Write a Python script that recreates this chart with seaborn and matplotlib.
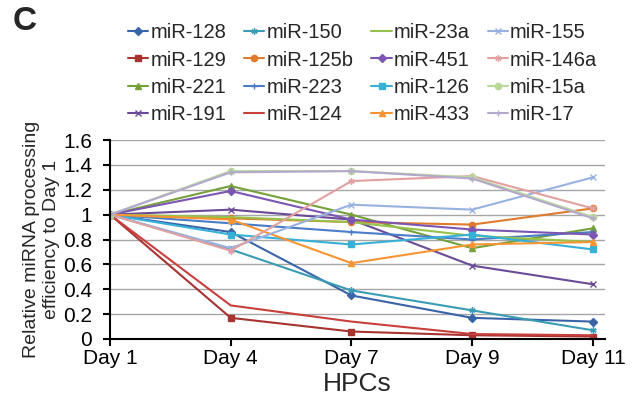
import matplotlib
matplotlib.use("Agg")
import matplotlib.pyplot as plt
import seaborn as sns
import numpy as np
import pandas as pd

days = ["Day 1", "Day 4", "Day 7", "Day 9", "Day 11"]

# series in Excel plotting order (legend is filled column by column)
mirnas = ["miR-128", "miR-129", "miR-221", "miR-191",
          "miR-150", "miR-125b", "miR-223", "miR-124",
          "miR-23a", "miR-451", "miR-126", "miR-433",
          "miR-155", "miR-146a", "miR-15a", "miR-17"]

mir128 = [1.0, 0.86, 0.35, 0.17, 0.14]
mir129 = [1.0, 0.17, 0.06, 0.03, 0.02]
mir221 = [1.0, 1.23, 1.00, 0.73, 0.89]
mir191 = [1.0, 1.04, 0.96, 0.59, 0.44]
mir150 = [1.0, 0.72, 0.39, 0.23, 0.07]
mir125b = [1.0, 0.97, 0.94, 0.92, 1.05]
mir223 = [1.0, 0.93, 0.86, 0.80, 0.86]
mir124 = [1.0, 0.27, 0.14, 0.04, 0.03]
mir23a = [1.0, 0.98, 0.94, 0.83, 0.78]
mir451 = [1.0, 1.19, 0.96, 0.88, 0.84]
mir126 = [1.0, 0.84, 0.76, 0.84, 0.72]
mir433 = [1.0, 0.96, 0.61, 0.76, 0.78]
mir155 = [1.0, 0.73, 1.08, 1.04, 1.30]
mir146a = [1.0, 0.71, 1.27, 1.31, 1.05]
mir15a = [1.0, 1.35, 1.35, 1.30, 0.98]
mir17 = [1.0, 1.34, 1.35, 1.29, 0.97]

values = [mir128, mir129, mir221, mir191, mir150, mir125b, mir223, mir124,
          mir23a, mir451, mir126, mir433, mir155, mir146a, mir15a, mir17]

colors = ["#3A64A8", "#A83432", "#76A03A", "#6B4B98",
          "#3A9CB4", "#E07A2C", "#4A7CC8", "#C8403C",
          "#95C24A", "#7B56B2", "#36B0D6", "#F79433",
          "#98B2E0", "#E2A0A0", "#B9D89C", "#B4A8CE"]
markers = ["D", "s", "^", "x",
           (6, 2, 0), "o", "+", None,
           None, "D", "s", "^",
           "x", (6, 2, 0), "o", "+"]

rows = []
for name, vals in zip(mirnas, values):
    for i, (d, v) in enumerate(zip(days, vals)):
        rows.append({"miRNA": name, "pos": i, "day": d, "value": v})
df = pd.DataFrame(rows)

sns.set_style("white")
plt.rcParams["font.family"] = ["Liberation Sans", "DejaVu Sans"]

fig = plt.figure(figsize=(6.35, 4.09), dpi=100)
ax = fig.add_axes([110 / 635, 1 - 339 / 409, 495 / 635, 199 / 409])

for name, c, m in zip(mirnas, colors, markers):
    sub = df[df["miRNA"] == name]
    sns.lineplot(data=sub, x="pos", y="value", ax=ax, color=c, marker=m,
                 markersize=4.5, markeredgecolor=c, markeredgewidth=1.0,
                 linewidth=1.5, label=name, legend=False)

ax.set_xlim(0, 4.1)
ax.set_ylim(0, 1.6)
ax.set_yticks(np.arange(0, 1.61, 0.2))
ax.set_yticklabels(["0", "0.2", "0.4", "0.6", "0.8", "1", "1.2", "1.4", "1.6"])
ax.set_xticks(range(len(days)))
ax.set_xticklabels(days)
ax.yaxis.grid(True, color="#a6a6a6", linewidth=1)
ax.set_axisbelow(True)
for s in ["top", "right"]:
    ax.spines[s].set_visible(False)
for s in ["left", "bottom"]:
    ax.spines[s].set_color("black")
    ax.spines[s].set_linewidth(1.5)
ax.tick_params(axis="both", which="major", direction="out", length=5, width=1.5,
               labelsize=15, colors="black", bottom=True, left=True)
ax.tick_params(axis="x", pad=2)
ax.tick_params(axis="y", pad=8)
ax.set_xlabel("HPCs", fontsize=19, labelpad=3)
ax.set_ylabel("Relative miRNA processing\nefficiency to Day 1", fontsize=14,
              labelpad=2, linespacing=1.2)

handles, labels = ax.get_legend_handles_labels()
fig.legend(handles, labels, ncol=4, loc="upper left",
           bbox_to_anchor=(120 / 635, 1 - 15 / 409), frameon=False,
           fontsize=14.5, handlelength=1.0, handletextpad=0.1,
           columnspacing=0.9, labelspacing=0.42, borderaxespad=0)

fig.text(25 / 635, 1 - 21 / 409, "C", fontsize=24, fontweight="bold",
         ha="center", va="center")

fig.savefig("out.png", dpi=100)
